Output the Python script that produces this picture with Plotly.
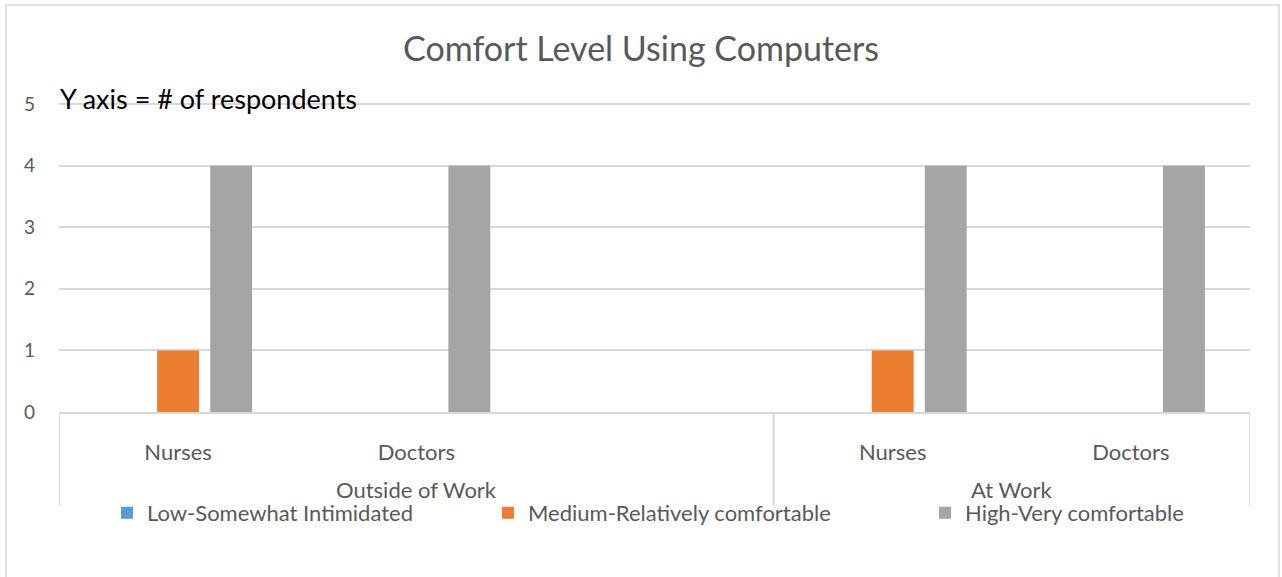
import plotly.graph_objects as go

# ---- data ----
slots = [0, 1, 2, 3, 4]
sub_labels = ["Nurses", "Doctors", "", "Nurses", "Doctors"]
group_labels = ["Outside of Work", "At Work"]
group_centers = [1.0, 3.5]
group_edges = [-0.5, 2.5, 4.5]
series_names = ["Low-Somewhat Intimidated", "Medium-Relatively comfortable", "High-Very comfortable"]
low_vals = [0, 0, None, 0, 0]
medium_vals = [1, 0, None, 1, 0]
high_vals = [4, 4, None, 4, 4]
colors = ["#5B9BD5", "#ED7D31", "#A5A5A5"]
y_ticks = [0, 1, 2, 3, 4, 5]

FONT = "Lato"
TXT = "#595959"
GRID = "#D9D9D9"

# pixel helpers (plot area: x 59..1250, y 101..412)
L, R, T, B = 59, 1250, 101, 412
def px_x(p):
    return (p - L) / (R - L)
def px_y(p):
    return (B - p) / (B - T)

fig = go.Figure()
legends = ["legend", "legend2", "legend3"]
for name, vals, c, lg in zip(series_names, [low_vals, medium_vals, high_vals], colors, legends):
    fig.add_trace(go.Bar(x=slots, y=vals, name=name, marker_color=c,
                         marker_line_width=0, legend=lg, hoverinfo="skip"))

shapes = []
for e in group_edges:
    shapes.append(dict(type="line", xref="x", yref="paper", x0=e, x1=e,
                       y0=0, y1=px_y(506), line=dict(color=GRID, width=2)))
# chart border
shapes.append(dict(type="rect", xref="paper", yref="paper",
                   x0=px_x(6), x1=px_x(1279), y0=px_y(640), y1=px_y(5),
                   line=dict(color=GRID, width=1.5), layer="below"))

annotations = [dict(text="Y axis = # of respondents", xref="paper", yref="paper",
                    x=px_x(58), y=px_y(98), xanchor="left", yanchor="middle",
                    showarrow=False, font=dict(family=FONT, size=27, color="#000000"))]
for g, cx in zip(group_labels, group_centers):
    annotations.append(dict(text=g, xref="x", yref="paper", x=cx, y=px_y(489),
                            xanchor="center", yanchor="middle", showarrow=False,
                            font=dict(family=FONT, size=22, color=TXT)))

leg_common = dict(orientation="h", yanchor="middle", y=px_y(513), xanchor="left",
                  font=dict(family=FONT, size=22, color=TXT), bgcolor="rgba(0,0,0,0)")
fig.update_layout(
    width=1282, height=577,
    margin=dict(l=L, r=1282 - R, t=T, b=577 - B),
    paper_bgcolor="white", plot_bgcolor="white",
    title=dict(text="Comfort Level Using Computers", x=0.5, xref="container",
               y=1 - 49 / 577, yref="container", yanchor="middle", xanchor="center",
               font=dict(family=FONT, size=34, color=TXT)),
    barmode="group", bargap=0.332, bargroupgap=0.21,
    xaxis=dict(range=[-0.5, 4.5], tickvals=slots, ticktext=sub_labels,
               showgrid=False, zeroline=False, showline=True, linecolor=GRID, linewidth=2,
               ticks="", ticklabelstandoff=20,
               tickfont=dict(family=FONT, size=22, color=TXT), fixedrange=True),
    yaxis=dict(range=[0, 5.05], tickvals=y_ticks, showgrid=True, gridcolor=GRID, gridwidth=2,
               zeroline=False, showline=False, ticks="", ticklabelstandoff=23,
               tickfont=dict(family=FONT, size=19, color=TXT), fixedrange=True),
    shapes=shapes, annotations=annotations,
    legend=dict(x=px_x(107), **leg_common),
    legend2=dict(x=px_x(488), **leg_common),
    legend3=dict(x=px_x(925), **leg_common),
    showlegend=True,
)

fig.write_html("out.html", config={"displayModeBar": False},
               post_script="document.body.style.margin='0';")
